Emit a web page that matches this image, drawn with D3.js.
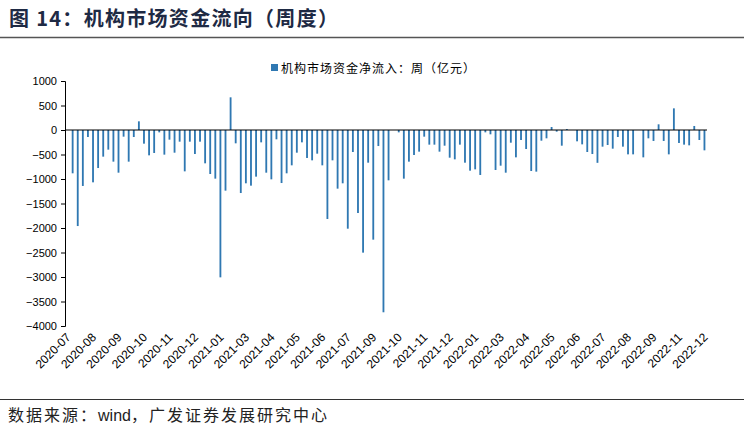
<!DOCTYPE html>
<html>
<head>
<meta charset="utf-8">
<script src="https://cdn.jsdelivr.net/npm/d3@7"></script>
<style>
  body { margin: 0; background: #fff; }
  svg { display: block; }
</style>
</head>
<body>
<div id="chart"></div>
<script>
var width = 744, height = 437;

var titleText = "图 14：机构市场资金流向（周度）",
    seriesName = "机构市场资金净流入：周（亿元）",
    sourceParts = ["数据来源：", "wind", "，广发证券发展研究中心"];

// weekly net inflow, 100m yuan (first week empty)
var values = [
    0, -884, -1960, -1142, -143, -1068, -776, -544, -401, -646,
    -871, -136, -646, -143, 177, -279, -517, -469, -48, -503,
    -197, -463, -238, -844, -238, -490, -238, -680, -898, -993,
    -3007, -1238, 667, -272, -1286, -1088, -1136, -952, -252, -871,
    -1007, -190, -1082, -884, -721, -463, -252, -571, -619, -483,
    -721, -1816, -619, -1197, -1088, -2014, -449, -1694, -2503, -667,
    -2238, -327, -3720, -1027, 0, -48, -993, -646, -510, -442,
    -136, -299, -299, -442, -320, -565, -599, -299, -667, -830,
    -803, -918, -48, -88, -816, -728, -871, -259, -558, -204,
    -388, -837, -850, -218, -170, 61, -34, -320, 20, 0,
    -231, -293, -449, -490, -670, -340, -306, -381, -143, -340,
    -497, -497, 0, -558, -170, -224, 116, -224, -497, 442,
    -265, -299, -313, 82, -204, -415
];

var tickLabels = ["2020-07", "2020-08", "2020-09", "2020-10", "2020-11", "2020-12",
    "2021-01", "2021-03", "2021-04", "2021-05", "2021-06", "2021-07",
    "2021-09", "2021-10", "2021-11", "2021-12", "2022-01", "2022-03",
    "2022-04", "2022-05", "2022-06", "2022-07", "2022-08", "2022-09",
    "2022-11", "2022-12"];
var labelEvery = 5;

var yTicks = [1000, 500, 0, -500, -1000, -1500, -2000, -2500, -3000, -3500, -4000];

var barColor = "#2f78b2";

var svg = d3.select("#chart").append("svg")
    .attr("width", width)
    .attr("height", height);

// title + rules
svg.append("text")
    .attr("x", 9)
    .attr("y", 26)
    .style("font-family", "'Noto Sans CJK SC', sans-serif")
    .style("font-weight", "bold")
    .style("font-size", "20px")
    .style("letter-spacing", "1.3px")
    .style("fill", "#1e2a44")
    .text(titleText);

svg.append("line")
    .attr("x1", 0).attr("x2", width)
    .attr("y1", 37.5).attr("y2", 37.5)
    .style("stroke", "#555")
    .style("stroke-width", 1.5);

svg.append("line")
    .attr("x1", 0).attr("x2", width)
    .attr("y1", 399.5).attr("y2", 399.5)
    .style("stroke", "#333")
    .style("stroke-width", 1.2);

var source = svg.append("text")
    .attr("x", 8)
    .attr("y", 421)
    .style("font-family", "'Noto Sans CJK SC', sans-serif")
    .style("font-size", "16px")
    .style("fill", "#222");
source.selectAll("tspan")
    .data(sourceParts)
    .enter().append("tspan")
    .style("letter-spacing", function(d, i) { return i == 1 ? "0px" : "2px"; })
    .style("font-family", function(d, i) {
        return i == 1 ? "'Liberation Sans', Arial, sans-serif" : null; })
    .text(function(d) { return d; });

// scales
var x = d3.scaleBand()
    .domain(d3.range(values.length))
    .range([65, 707])
    .paddingInner(0.64)
    .paddingOuter(0.32);

var y = d3.scaleLinear()
    .domain([-4000, 1000])
    .range([326, 81]);

// bars
svg.selectAll("rect.bar")
    .data(values)
    .enter().append("rect")
    .attr("class", "bar")
    .attr("x", function(d, i) { return x(i); })
    .attr("width", x.bandwidth())
    .attr("y", function(d) { return y(Math.max(0, d)); })
    .attr("height", function(d) { return Math.abs(y(d) - y(0)); })
    .style("fill", barColor);

// zero line
svg.append("line")
    .attr("x1", 65).attr("x2", 707)
    .attr("y1", y(0)).attr("y2", y(0))
    .style("stroke", "#000")
    .style("stroke-width", 1.2);

// y axis
var yAxis = svg.append("g")
    .attr("transform", "translate(65,0)")
    .call(d3.axisLeft(y).tickValues(yTicks).tickFormat(d3.format("d")).tickSize(4).tickPadding(4));
yAxis.select(".domain").style("stroke", "#000");
yAxis.selectAll("line").style("stroke", "#000");
yAxis.selectAll("text")
    .style("font-family", "'Liberation Sans', Arial, sans-serif")
    .style("font-size", "11px")
    .style("fill", "#000");

// x labels
svg.selectAll("text.xlab")
    .data(tickLabels)
    .enter().append("text")
    .attr("class", "xlab")
    .attr("transform", function(d, i) {
        var cx = x(i * labelEvery) + x.bandwidth() / 2;
        return "translate(" + (cx + 4) + ",338) rotate(-45)";
    })
    .attr("text-anchor", "end")
    .style("font-family", "'Liberation Sans', Arial, sans-serif")
    .style("font-size", "12px")
    .style("fill", "#000")
    .text(function(d) { return d; });

// legend
svg.append("rect")
    .attr("x", 271).attr("y", 64)
    .attr("width", 7).attr("height", 7)
    .style("fill", barColor);

svg.append("text")
    .attr("x", 281)
    .attr("y", 73)
    .style("font-family", "'Noto Sans CJK SC', sans-serif")
    .style("font-size", "12px")
    .style("letter-spacing", "1px")
    .style("fill", "#000")
    .text(seriesName);
</script>
</body>
</html>
